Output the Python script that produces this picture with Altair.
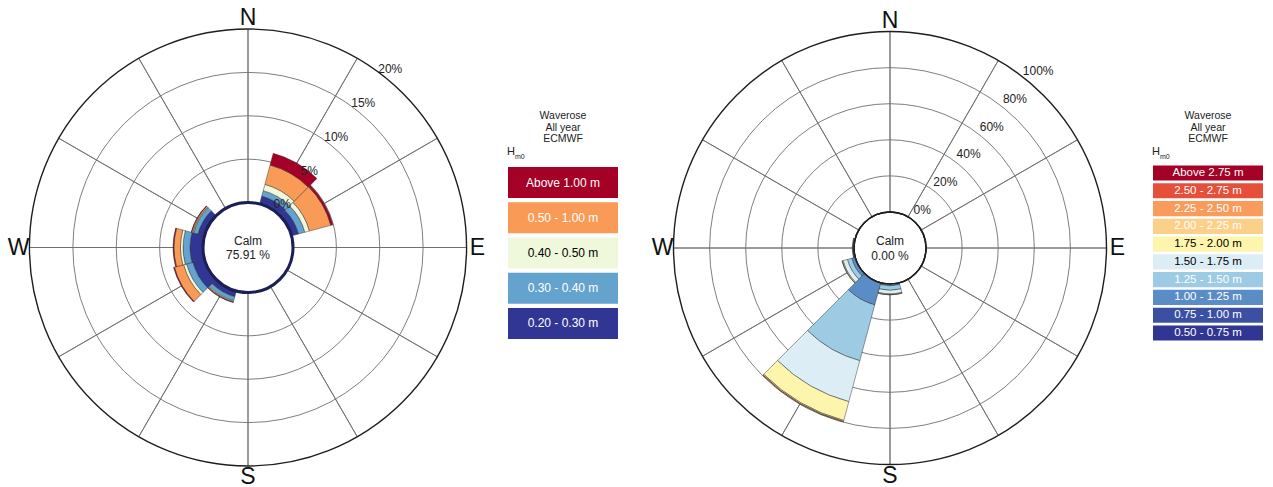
import math
import altair as alt
import pandas as pd

FONT = "Liberation Sans"

# ---------------- data ----------------
directions = [0, 30, 60, 90, 120, 150, 180, 210, 240, 270, 300, 330]

# left rose: wave height classes (percent of time per 30-degree sector)
left_classes = ["0.20 - 0.30 m", "0.30 - 0.40 m", "0.40 - 0.50 m", "0.50 - 1.00 m", "Above 1.00 m"]
left_h020_030 = [0, 0.95, 0.85, 0, 0, 0, 0, 0.70, 1.40, 1.50, 0.80, 0]
left_h030_040 = [0, 0.65, 0.75, 0, 0, 0, 0, 0.45, 0.75, 0.80, 0.50, 0]
left_h040_050 = [0, 0.75, 0.55, 0, 0, 0, 0, 0.10, 0.35, 0.30, 0.10, 0]
left_h050_100 = [0, 2.30, 2.55, 0, 0, 0, 0, 0.10, 1.10, 0.75, 0.15, 0]
left_h100_up = [0, 1.40, 0.25, 0, 0, 0, 0, 0.03, 0.10, 0.10, 0.05, 0]
left_calm = 75.91
left_ticks = [0, 5, 10, 15, 20]

# right rose
right_classes = ["0.50 - 0.75 m", "0.75 - 1.00 m", "1.00 - 1.25 m", "1.25 - 1.50 m",
                 "1.50 - 1.75 m", "1.75 - 2.00 m", "2.00 - 2.25 m", "2.25 - 2.50 m",
                 "2.50 - 2.75 m", "Above 2.75 m"]
right_h050_075 = [0, 0, 0, 0, 0, 0, 0, 0, 0, 0, 0, 0]
right_h075_100 = [0, 0, 0, 0, 0, 0, 0, 0.3, 0, 0, 0, 0]
right_h100_125 = [0, 0, 0, 0, 0, 0, 1.0, 12.4, 2.0, 0.2, 0, 0]
right_h125_150 = [0, 0, 0, 0, 0, 0, 2.5, 32.0, 2.5, 0.4, 0, 0]
right_h150_175 = [0, 0, 0, 0, 0, 0, 2.0, 23.5, 2.5, 0.3, 0, 0]
right_h175_200 = [0, 0, 0, 0, 0, 0, 0.4, 10.8, 0.5, 0.1, 0, 0]
right_h200_225 = [0, 0, 0, 0, 0, 0, 0.1, 0.6, 0.1, 0, 0, 0]
right_h225_250 = [0, 0, 0, 0, 0, 0, 0, 0.2, 0, 0, 0, 0]
right_h250_275 = [0, 0, 0, 0, 0, 0, 0, 0, 0, 0, 0, 0]
right_h275_up = [0, 0, 0, 0, 0, 0, 0, 0, 0, 0, 0, 0]
right_calm = 0.00
right_ticks = [0, 20, 40, 60, 80, 100]

compass = ["N", "E", "S", "W"]
compass_angles = [0, 90, 180, 270]
title_lines = ["Waverose", "All year", "ECMWF"]

# ---------------- styling ----------------
left_palette = ["#313695", "#65a3cf", "#eff8da", "#f99a56", "#a50026"]
left_white_text = [True, True, False, True, True]
right_palette = ["#313695", "#3b4fa3", "#5a8dc6", "#9ccbe3", "#dcedf5",
                 "#fdf5ac", "#fdd08a", "#fa9b5c", "#e6503a", "#a50026"]
right_white_text = [True, True, True, True, False, False, True, True, True, True]

SECTOR = 30


def sector_table(classes, series):
    rows = []
    for i, d in enumerate(directions):
        base = 0.0
        for cls, vals in zip(classes, series):
            v = vals[i]
            if v > 0:
                rows.append({"a0": d - SECTOR / 2, "a1": d + SECTOR / 2,
                             "r0": base, "r1": base + v, "cls": cls})
                base += v
    return pd.DataFrame(rows)


def one():
    return alt.Data(values=[{}])


def rose_panel(classes, series, palette, white_text, calm, ticks, r_range,
               cx, cy, lx, tick_angle, tick_offset, calm_stroke, calm_width,
               legend_range, legend_pad, legend_font, panel_width):
    theta_scale = alt.Scale(domain=[0, 360], range=[0, 2 * math.pi])
    radius_scale = alt.Scale(type="linear", domain=[ticks[0], ticks[-1]],
                             range=r_range, zero=False)
    color_scale = alt.Scale(domain=classes, range=palette)
    pos = dict(x=alt.value(cx), y=alt.value(cy))

    rings = alt.Chart(pd.DataFrame({"t": ticks[1:-1], "a0": 0, "a1": 360})).mark_arc(
        fill="transparent", stroke="#6f6f6f", strokeWidth=0.9
    ).encode(
        theta=alt.Theta("a0:Q", scale=theta_scale, stack=False), theta2="a1:Q",
        radius=alt.Radius("t:Q", scale=radius_scale), **pos)

    outer = alt.Chart(pd.DataFrame({"t": [ticks[-1]], "a0": [0], "a1": [360]})).mark_arc(
        fill="transparent", stroke="#1e1e1e", strokeWidth=1.4
    ).encode(
        theta=alt.Theta("a0:Q", scale=theta_scale, stack=False), theta2="a1:Q",
        radius=alt.Radius("t:Q", scale=radius_scale), **pos)

    spokes = alt.Chart(pd.DataFrame({"a": directions, "lo": ticks[0], "hi": ticks[-1]})).mark_arc(
        fill="transparent", stroke="#6f6f6f", strokeWidth=0.9
    ).encode(
        theta=alt.Theta("a:Q", scale=theta_scale, stack=False), theta2="a:Q",
        radius=alt.Radius("hi:Q", scale=radius_scale), radius2="lo:Q", **pos)

    sectors = alt.Chart(sector_table(classes, series)).mark_arc(
        stroke="#2a2a2a", strokeWidth=0.6, strokeOpacity=0.75
    ).encode(
        theta=alt.Theta("a0:Q", scale=theta_scale, stack=False), theta2="a1:Q",
        radius=alt.Radius("r1:Q", scale=radius_scale), radius2="r0:Q",
        color=alt.Color("cls:N", scale=color_scale, legend=None), **pos)

    disk = alt.Chart(pd.DataFrame({"r": [ticks[0]], "a0": [0], "a1": [360]})).mark_arc(
        fill="white", stroke=calm_stroke, strokeWidth=calm_width
    ).encode(
        theta=alt.Theta("a0:Q", scale=theta_scale, stack=False), theta2="a1:Q",
        radius=alt.Radius("r:Q", scale=radius_scale), **pos)

    # first line sits at y, following lines below it
    calm_text = alt.Chart(one()).mark_text(
        font=FONT, fontSize=12, lineHeight=14.5, color="#222", baseline="middle"
    ).encode(text=alt.value(["Calm", f"{calm:.2f} %"]), x=alt.value(cx), y=alt.value(cy - 7))

    tick_df = pd.DataFrame({"t": ticks, "lab": [f"{t}%" for t in ticks], "a": tick_angle})
    tick_labels = alt.Chart(tick_df).mark_text(
        font=FONT, fontSize=12, color="#222", radiusOffset=tick_offset, baseline="middle"
    ).encode(
        theta=alt.Theta("a:Q", scale=theta_scale, stack=False),
        radius=alt.Radius("t:Q", scale=radius_scale), text="lab:N", **pos)

    comp = alt.Chart(pd.DataFrame({"c": compass, "a": compass_angles})).mark_text(
        font=FONT, fontSize=23, color="#111", radius=r_range[1] + 11, baseline="middle"
    ).encode(
        theta=alt.Theta("a:Q", scale=theta_scale, stack=False), text="c:N", **pos)

    # legend block
    order = classes[::-1]
    leg_df = pd.DataFrame({"cls": order, "ink": ["w" if w else "k" for w in white_text[::-1]]})
    y_scale = alt.Scale(domain=order, range=legend_range, paddingInner=legend_pad, paddingOuter=0)
    boxes = alt.Chart(leg_df).mark_rect().encode(
        y=alt.Y("cls:N", scale=y_scale, axis=None),
        x=alt.value(lx), x2=alt.value(lx + 110),
        color=alt.Color("cls:N", scale=color_scale, legend=None))
    box_text = alt.Chart(leg_df).mark_text(font=FONT, fontSize=legend_font).encode(
        y=alt.Y("cls:N", scale=y_scale, axis=None),
        x=alt.value(lx + 55), text="cls:N",
        color=alt.condition(alt.datum.ink == "w", alt.value("white"), alt.value("black")))

    title = alt.Chart(one()).mark_text(
        font=FONT, fontSize=10.5, lineHeight=11.5, color="#222", baseline="middle"
    ).encode(text=alt.value(title_lines), x=alt.value(lx + 55), y=alt.value(116))
    h_main = alt.Chart(one()).mark_text(
        font=FONT, fontSize=11, color="#222", align="left", baseline="middle"
    ).encode(text=alt.value("H"), x=alt.value(lx - 1), y=alt.value(151.5))
    h_sub = alt.Chart(one()).mark_text(
        font=FONT, fontSize=7, color="#222", align="left", baseline="middle"
    ).encode(text=alt.value("m0"), x=alt.value(lx + 7), y=alt.value(156.5))

    return alt.layer(
        rings, spokes, outer, sectors, disk, calm_text, tick_labels, comp,
        boxes, box_text, title, h_main, h_sub
    ).properties(width=panel_width, height=487)


left = rose_panel(
    left_classes,
    [left_h020_030, left_h030_040, left_h040_050, left_h050_100, left_h100_up],
    left_palette, left_white_text, left_calm, left_ticks, [45, 218.5],
    cx=248, cy=247.5, lx=508, tick_angle=38.5, tick_offset=10,
    calm_stroke="#1a1f55", calm_width=3,
    legend_range=[167, 339], legend_pad=0.12, legend_font=12, panel_width=640)

right = rose_panel(
    right_classes,
    [right_h050_075, right_h075_100, right_h100_125, right_h125_150, right_h150_175,
     right_h175_200, right_h200_225, right_h225_250, right_h250_275, right_h275_up],
    right_palette, right_white_text, right_calm, right_ticks, [36, 216.5],
    cx=250, cy=248, lx=513, tick_angle=40, tick_offset=14,
    calm_stroke="#1e1e1e", calm_width=1.5,
    legend_range=[165.5, 340.5], legend_pad=0.15, legend_font=11.5, panel_width=633)

chart = alt.hconcat(left, right, spacing=0, padding=0).resolve_scale(
    color="independent", radius="independent", theta="independent", y="independent"
).configure_view(strokeWidth=0)

chart.save("out.html", embed_options={"renderer": "svg", "actions": False})
